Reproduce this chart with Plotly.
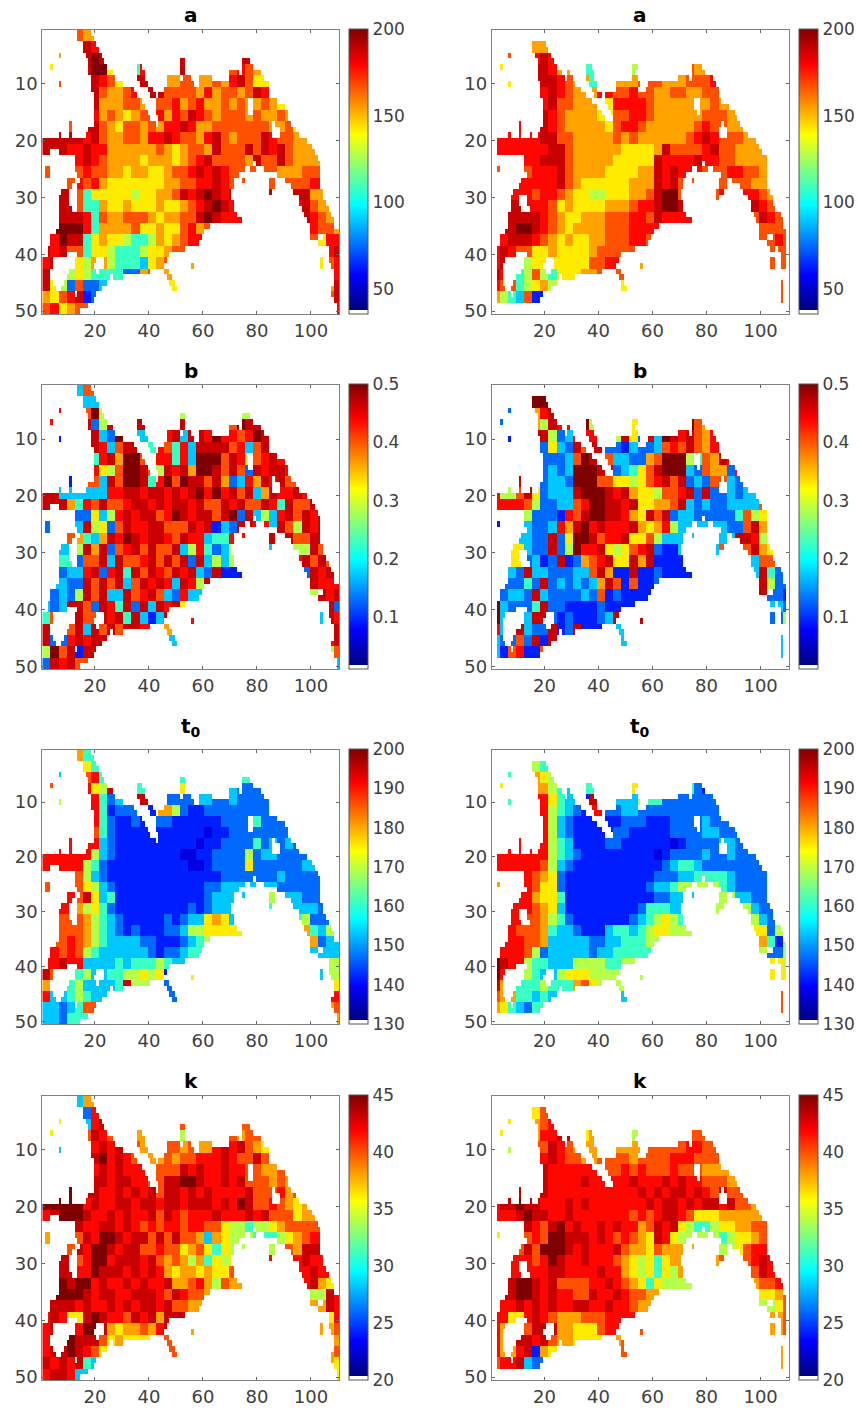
import plotly.graph_objects as go

W, H = 859, 1411
# full-resolution extent of valid cells: per row (1..50), inclusive column spans
MASK_LEFT = [
 [(14,18)],[(14,19)],[(16,20)],[(16,21)],[(7,7),(17,22)],[(18,23),(52,53),(75,77)],
 [(4,4),(18,24),(36,37),(52,53),(75,78)],[(18,26),(36,38),(52,53),(70,73),(75,81)],
 [(19,27),(36,38),(47,51),(53,55),(59,63),(70,82)],[(7,7),(19,30),(37,39),(47,56),(59,84)],
 [(19,34),(40,41),(46,84)],[(20,35),(41,42),(44,84)],[(20,37),(43,76),(79,87)],[(20,38),(43,76),(79,90)],
 [(20,39),(43,76),(79,91)],[(20,40),(44,91)],[(11,11),(20,42),(44,85),(87,92)],[(11,11),(18,85),(89,94)],
 [(7,7),(11,11),(17,85),(89,95)],[(1,98)],[(1,100)],[(1,3),(7,101)],[(13,102)],[(13,78),(80,103)],
 [(2,3),(13,75),(78,79),(83,103)],[(2,3),(14,73),(88,103)],[(10,12),(15,71),(75,75),(85,86),(91,103)],
 [(10,11),(14,71),(85,86),(93,103)],[(8,10),(14,70),(85,85),(94,104)],[(7,10),(14,70),(96,104)],
 [(7,10),(14,71),(96,105)],[(7,11),(14,71),(97,106)],[(7,72),(98,107)],[(7,74),(99,108)],[(7,62),(100,108)],
 [(6,60),(100,110)],[(4,59),(100,102),(105,110)],[(4,58),(103,110)],[(3,53),(107,110)],[(3,9),(14,47),(107,110)],
 [(1,4),(13,20),(24,46),(104,104),(107,110)],[(1,4),(13,19),(24,45),(56,56),(104,104),(108,110)],
 [(1,3),(11,20),(22,40),(46,47),(109,110)],[(1,3),(10,25),(27,30),(47,48),(109,110)],
 [(1,4),(9,24),(48,49),(109,110)],[(1,5),(8,22),(49,50),(108,110)],[(1,12),(14,20),(108,110)],
 [(1,19),(109,110)],[(1,17),(110,110)],[(1,14),(110,110)],
]
MASK_RIGHT = [
 [],[],[(16,20)],[(16,21)],[(7,7),(17,22)],[(18,23)],
 [(4,4),(18,24),(36,37),(53,54),(75,78)],[(18,26),(29,29),(36,38),(53,53),(75,79)],
 [(18,27),(29,30),(36,38),(53,54),(70,73),(75,82)],[(7,7),(19,31),(37,39),(47,55),(59,83)],
 [(19,33),(38,39),(47,54),(58,84)],[(19,35),(39,41),(43,84)],[(20,37),(43,75),(78,85)],[(20,39),(44,75),(78,88)],
 [(20,41),(45,76),(78,90)],[(20,42),(46,91)],[(11,11),(20,85),(87,92)],[(11,11),(19,84),(88,93)],
 [(7,7),(11,11),(15,15),(18,84),(88,95)],[(3,98)],[(3,99)],[(3,100)],[(13,102)],[(13,78),(80,102)],
 [(3,3),(13,74),(77,80),(83,102)],[(14,72),(86,102)],[(12,71),(75,75),(85,87),(90,102)],
 [(11,71),(85,87),(93,102)],[(9,70),(84,86),(94,103)],[(8,10),(14,70),(84,84),(96,104)],
 [(8,10),(14,71),(97,104)],[(8,11),(15,71),(97,105)],[(7,72),(98,107)],[(7,74),(99,108)],[(7,62),(100,108)],
 [(6,60),(100,109)],[(4,59),(100,102),(105,109)],[(4,58),(103,109)],[(3,53),(104,105),(107,109)],
 [(3,9),(14,48),(108,109)],[(3,5),(13,20),(24,47),(104,105),(108,109)],[(3,4),(13,19),(24,46),(56,56),(104,105),(108,109)],
 [(3,4),(12,20),(23,41),(47,48)],[(3,4),(10,25),(27,31),(48,49)],[(3,4),(9,24),(49,49),(108,108)],
 [(3,5),(8,22),(49,50),(108,108)],[(3,7),(9,19),(108,108)],[(3,18),(108,108)],[],[],
]

# read-off levels, one char per 3 columns x 2 rows; text after | is flush right
A_L = ["....87",".....a9","..7..aba",".6...abb6..49....a.....8987","..8...a986..a..778877879a866",
"......a87789.a.88887978878a97766","......a777887788978977878778766","......978767889798a98788878778766",
"...8..a8768878799a97788888887786","..aaa9a87788799a98879a87888a98877766","aaa99a997777778767887a888a8a9a877766",
"....9a98777767776789a88887a88a8777777","8...898877677667889a9a98|88777888..","...8989766666667788 99a98|8.8889...".replace(" ",""),
"..a.846666656677 8a9aba9a|a77..".replace(" ",""),"..a.8447667666766789aba9|9a87..","..aaa94877888767788aba9|a9877",
"..bbb9477778667668978|9887",".9baa4676654457678998|8699","a9a8.466544456678887|9a",
"9a..657.54443678897|689","a7.56544442278.78|89","a65282235.......6|7a","7689a12|8a","89678|9"]
A_R = ["",".....77","..8..9a9",".6...aa97..44.....5.....8777","..6...aa987..4..778887778889887766",
"......9a9877.9.88988778877887776","......9a887776..9998777777787776","......a9877776..8998777777888777",
"...9..a98777776899877777789887776","..9999aa887777787877777789a9888777","9999999aa877777766667a88889a8877776",
"....99aaa87777766666a9999a9988777776","8...8999a87777666677a9a9|88998877..","...99999a87666666777a9a88|8.8877...",
"..9.9899876655666778abb8|987..","..a.9998676666777899abba|a98..","..aaaa98766777888998a999|8a988",
"..abba9876777788899998|888.",".9aaa9876766778889988|8.98","9a98.66766667888|88.",
"9a..56.666668899..7|88.","a9.45854666778.88","98.45675........6|8.","754381|8.",""]
B_L = ["....38",".....3","..9..8b5",".9...a25a..a....a.....a8ba","..1...a32b..3..9a3aa9b9989ba",
"......a938a.4.98493aaaa8938ab9","......49a7bb89.9493bbb8a9589a9","......9658bba85a9a7bba8a82a9aa9",
"...1..83a8bba49b8baa8a72397a9a8","aa33..3399aa9aa9a9ab9b9a8a37a99a9a8","aa.7498a889aa9a9aa9a88a9a88a94a88a8",
"...8226359a9aa89ba9aa8ab2a3539a8a9a","2...3a5628a99aa888a9a132a|93a85a9a..","...87437a9ba9aa98a993449|a.a88a...",
"..3.5a7a289a8a88a3594235|355a8..","..4.288a3a889a8a8a2a3535a1|29a8a8.","..2339a29a4a8a98a9a32a1|a2a9a8",
"..322a8a8a38a9a93a95a|2a999",".2325a8a33a89a83293|35a9a","323a.82a94a2a3a9a63|a2","48..a8.a9a4a313a...9|3a9",
"a3.8a3a8a8aa9.7.a|a","a2.9a9aa........3|9a","5b8a1a.|58","2a9a8|3"]
B_R = ["",".....bb","..2..79a",".2...75a9..b5....6.....ab87","..1...a5239...5.a62a3ba9a8798a8ba",
"......2632a8a..213223898a8798bba","......22238ba8.332278bbb5487a9abba","......2323bbba.23468abbb3287729ab9",
"...a..2332bbb88665689a8a2328832a9a","9558a62333abbba9a7665889a2a223233a866","9.9985223389bbaa9a66778a3232233338855",
"....5222198abbaa976a8a2332222248567","1...322397ab9a999a767953|3228a75..","...3322a26bba899a668533|1.33aa95...",
"..6.322a25b99a65689a2113|8a76..","..6.2312a12789a66a7a1111|2388..","..32a33222338a711a112111|3a42.",
"..2242a2323237a8181121|8a52.",".2332a322223281211111|a.221","b32.24a22111121111|32","b3..3a.21211123a2aa|2.5",
"93.a322a12a11...33|8.","32.82a1a........3|3.","3189118|3.",""]
T_L = ["....74",".....64","..3..894",".8...965a3..45...6.....3222","..5...9423..a..2222332232222",
"......9412221.7.5211222222222222","......9421121..21111112222422222","......8421111..1111101122222222223",
"...9..9321111111111011222242323222","9999995321111111100112222523322223","9.9995421111111111001222262222223",
"....8532111111111111112222222322222","8...86532111111111112233|33222222..","...98a63411111111111233|5.3322...",
"..9.75642111111111212333|43332..","..8.87543211111212336763|4522..","..88875432121112235566|7435.",
"..8987543333221112345|7233",".9898543333332122344|3.33","99a9.3333434445433|55",
"a8..453.44556561..6|3.55","75.4533334a55...23|46","93.45433........2|99","3323488|78","33244|7"]
T_R = ["",".....54","..4..7655",".6...77543..45...6.....6421","..4...9643.1a..33354422222",
"......9543219..2332222222222222","......953211111.222111222232222","......95321111.2211111222233222223",
"...9..95431111221111110122223322223","9999999543211111111101222232232222","9.99998532111111111112344322222222",
"....987621111111111122233444432222222","7...98662111111111123345|54322222..","...99766411111111111223|5.3322...",
"..9.9876311111111124443|5322..","..9.88754211111112345654|6532..","..988874332111344345665|66254",
"..998873333322334445|7415",".99985233333233444|52.5","ba9.5443335555445|65","b9..543.56665555..5|6.6",
"a7.4445444786555.34","87.44343........3|8.","764324|8.",""]
K_L = ["....37",".....29","..6..39a8",".6...8a98..7....5.....8878","..3...9a9a8.76.8878779a9a876",
"......ab9a98.7.8788999a988a87776","......9a9a999..88a9a99a9988778776","......aa9aa998.aabba99a9a8887876",
"...b..a99a9a9a8aa9a9a9999a8889787","..bbb9a99aa9aa9aa9aaa9a9ba8898767","9abbba99a9a99a8a98999a999a9a8886777",
"....a99aa9a989899899886554556788","7...8a9bba9aa8a8a8873765|44567899..","...8a9bba9aa889886786465|5.87aa...",
"..a.89bb9aaa9a8787574656|9a99..","..a.99baaa9a9a9767767668|9a99.","..babb9a99a9a99a77897587|9a766",
"..bbba9aa99aaa98a9887|55a9",".aaa9a99a9a9aa9a8877|.7a9","9a96.aba998a9a7a|69","9a..9b.a7677879a..7|7.8",
"9a.baaa86766...88|7","9a.ba9865.......8|78","a9a9a43|76","9aa93|6"]
K_R = ["",".....68","..6..789",".6...799a..67....5.....8888","..5...8a987.75..777888889988877",
"......9a9887.8.8878888999888777","......a9999998.89898889888777","......a9999a9999.a999a9a998887777",
"...a..a99999999999a9a9aa9a98a88777","9aabaa999a9a9999999a9aa9a9aa9a8877","9.9abaa99a99999998989aa98666777777",
"....a98ab9a99a9a9978a9a65445667788","6...898bbaaa9a989876a965|54566788..","...8a8bbba9a999a87768777|5.6899...",
"..9.989ba99a999876564677|89a9..","..9.999aa9999a9976564657|8a98.","..abba9a888899a98764655|78898",
"..abba9a9988a99a9887|6678",".99a9a9a99aa99a9987|5.68","996.9a9877788899|78","97..8a.a77666899..8|7.8",
"97.aa9a87766...78","97.9a176........8|7.","899a32|7.",""]

LEVEL_FRACTION = {'0':.11,'1':.165,'2':.24,'3':.33,'4':.44,'5':.56,'6':.65,'7':.72,'8':.80,'9':.87,'a':.93,'b':1.0}
TITLES = ["a","b","t<sub>0</sub>","k"]
TITLE_Y = [15, 371, 727, 1081]
ZMIN = [35.5, 0.0116, 130, 20]
ZMAX = [200, 0.5, 200, 45]
CB_TICKS = [[50,100,150,200],[0.1,0.2,0.3,0.4,0.5],[130,140,150,160,170,180,190,200],[20,25,30,35,40,45]]
LEFT_GRIDS = [A_L, B_L, T_L, K_L]
RIGHT_GRIDS = [A_R, B_R, T_R, K_R]
X_TICKS = [20,40,60,80,100]
Y_TICKS = [10,20,30,40,50]

ROW_TOP = [30, 385, 750, 1096]
ROW_BOTTOM = [314, 669.3, 1024, 1380]
COL_LEFT = [42.3, 491.7]
COL_RIGHT = [339.3, 789]
CB_LEFT = [349, 798.7]
WHITE = 0.014

JET = [(0,(0,0,127)),(.125,(0,0,255)),(.375,(0,255,255)),(.625,(255,255,0)),(.875,(255,0,0)),(1,(127,0,0))]
cs = [[0,"rgb(255,255,255)"],[WHITE,"rgb(255,255,255)"]]
for f,c in JET:
    cs.append([WHITE+(1-WHITE)*f, "rgb(%d,%d,%d)"%c])

def expand(rows):
    out=[]
    for s in rows:
        if "|" in s:
            a,b=s.split("|")
            s=a.ljust(37-len(b),".")[:37-len(b)]+b
        out.append(s.ljust(37,".")[:37])
    return out

def build(rows, mask, lo, hi):
    g=expand(rows)
    z=[]
    for r in range(50):
        line=[None]*110
        gr=r//2
        for a,b in mask[r]:
            for c in range(a-1,b):
                i=c//3
                ch=None
                for d in range(0,37):
                    for k in (i-d,i+d):
                        if 0<=k<37 and g[gr][k]!=".":
                            ch=g[gr][k];break
                    if ch:break
                if ch is None:
                    for dr in range(1,25):
                        for q in (gr-dr,gr+dr):
                            if 0<=q<25 and g[q][i]!=".":
                                ch=g[q][i];break
                        if ch:break
                if ch is None: ch="7"
                line[c]=lo+(hi-lo)*LEVEL_FRACTION[ch]
        z.append(line)
    return z

fig=go.Figure()
layout=dict(width=W,height=H,autosize=False,margin=dict(l=0,r=0,t=0,b=0,autoexpand=False),
            paper_bgcolor="white",plot_bgcolor="white",
            font=dict(family="DejaVu Sans",size=18,color="#404040"),showlegend=False)
ann=[]
n=0
xs=list(range(1,111)); ys=list(range(1,51))
for r in range(4):
    for c in range(2):
        n+=1
        grid=(LEFT_GRIDS if c==0 else RIGHT_GRIDS)[r]
        mask=MASK_LEFT if c==0 else MASK_RIGHT
        z=build(grid,mask,ZMIN[r],ZMAX[r])
        fig.add_trace(go.Heatmap(x=xs,y=ys,z=z,xaxis="x%d"%n,yaxis="y%d"%n,zmin=ZMIN[r],zmax=ZMAX[r],
            colorscale=cs,hoverinfo="skip",
            colorbar=dict(x=CB_LEFT[c]/W,xanchor="left",xpad=0,ypad=0,thickness=19,thicknessmode="pixels",
                len=ROW_BOTTOM[r]-ROW_TOP[r]+1,lenmode="pixels",y=1-(ROW_TOP[r]-1)/H,yanchor="top",
                tickvals=CB_TICKS[r],ticks="",outlinecolor="#555555",outlinewidth=1,
                tickfont=dict(family="DejaVu Sans",size=17,color="#404040"))))
        layout["xaxis%d"%n]=dict(domain=[COL_LEFT[c]/W,COL_RIGHT[c]/W],range=[.5,110.5],anchor="y%d"%n,
            tickvals=X_TICKS,ticks="inside",ticklen=3,tickcolor="#666666",showgrid=False,zeroline=False,
            showline=True,linecolor="#808080",linewidth=1,mirror="ticks")
        layout["yaxis%d"%n]=dict(domain=[1-ROW_BOTTOM[r]/H,1-ROW_TOP[r]/H],range=[50.5,.5],anchor="x%d"%n,
            tickvals=Y_TICKS,ticks="inside",ticklen=3,tickcolor="#666666",showgrid=False,zeroline=False,
            showline=True,linecolor="#808080",linewidth=1,mirror="ticks")
        ann.append(dict(text="<b>%s</b>"%TITLES[r],x=(COL_LEFT[c]+COL_RIGHT[c])/2/W,xref="paper",xanchor="center",
            y=1-TITLE_Y[r]/H,yref="paper",yanchor="middle",showarrow=False,
            font=dict(family="DejaVu Sans",size=20,color="black")))
layout["annotations"]=ann
fig.update_layout(**layout)
fig.write_html("out.html",post_script="document.body.style.margin='0';",config={"displayModeBar":False})
